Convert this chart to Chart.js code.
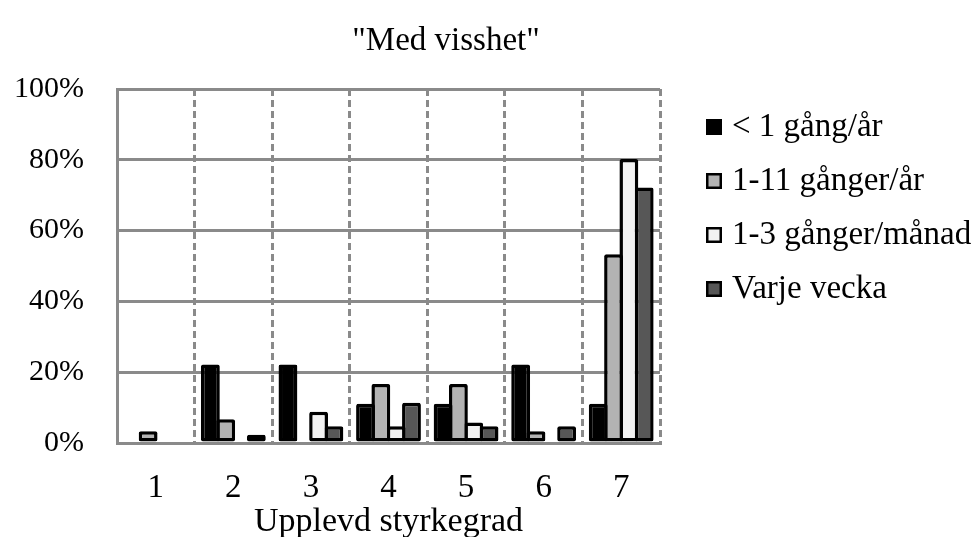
<!DOCTYPE html>
<html>
<head>
<meta charset="utf-8">
<script src="https://cdn.jsdelivr.net/npm/chart.js@4.4.1/dist/chart.umd.min.js"></script>
<style>
  html, body { margin: 0; padding: 0; background: #ffffff; }
  #wrap { width: 978px; height: 537px; }
</style>
</head>
<body>
<div id="wrap"><canvas id="c" width="978" height="537"></canvas></div>
<script>
const categories = ['1', '2', '3', '4', '5', '6', '7'];
const seriesNames = ['< 1 gång/år', '1-11 gånger/år', '1-3 gånger/månad', 'Varje vecka'];
const lessThanOnce = [0, 22.2, 22.2, 11.1, 11.1, 22.2, 11.1];
const elevenPerYear = [3.3, 6.7, 0, 16.7, 16.7, 3.3, 53.3];
const threePerMonth = [0, 0, 8.8, 4.7, 5.8, 0, 80.2];
const everyWeek = [0, 2.3, 4.7, 11.4, 4.7, 4.7, 72.2];
const yTicks = [0, 20, 40, 60, 80, 100];
const chartTitle = '"Med visshet"';
const xAxisTitle = 'Upplevd styrkegrad';

const FONT = 'Liberation Serif, Times New Roman, serif';
const GRID = '#8a8a8a';
const fills = ['#000000', '#b3b3b3', '#f2f2f2', '#575757'];
const seriesData = [lessThanOnce, elevenPerYear, threePerMonth, everyWeek];

const textPlugin = {
  id: 'sideLegendAndTitle',
  afterDraw(chart) {
    const ctx = chart.ctx;
    ctx.save();
    // title
    ctx.fillStyle = '#000';
    ctx.font = '33px ' + FONT;
    ctx.textAlign = 'center';
    ctx.textBaseline = 'middle';
    ctx.fillText(chartTitle, 446, 41);
    // legend
    chart.data.datasets.forEach((ds, i) => {
      const cy = 127 + i * 54;
      const bx = 706, bs = 16;
      ctx.fillStyle = ds.backgroundColor;
      ctx.fillRect(bx, cy - bs / 2, bs, bs);
      ctx.lineWidth = 2.5;
      ctx.strokeStyle = '#000';
      ctx.strokeRect(bx + 1.25, cy - bs / 2 + 1.25, bs - 2.5, bs - 2.5);
      ctx.fillStyle = '#000';
      ctx.font = '33px ' + FONT;
      ctx.textBaseline = 'middle';
      ctx.textAlign = 'left';
      ctx.fillText(ds.label, 732, cy);
    });
    ctx.restore();
  }
};

new Chart(document.getElementById('c'), {
  type: 'bar',
  data: {
    labels: categories,
    datasets: seriesNames.map((name, i) => ({
      label: name,
      data: seriesData[i],
      backgroundColor: fills[i],
      borderColor: '#000000',
      borderWidth: 3.5,
      borderSkipped: false,
      borderRadius: 2,
      categoryPercentage: 0.79,
      barPercentage: 1.23
    }))
  },
  options: {
    responsive: false,
    animation: false,
    devicePixelRatio: 1,
    layout: { padding: { left: 0, right: 318, top: 89, bottom: 0 } },
    plugins: {
      legend: { display: false },
      tooltip: { enabled: false },
      title: { display: false }
    },
    scales: {
      x: {
        grid: { display: true, offset: true, drawTicks: false, color: GRID, lineWidth: 3 },
        border: { display: true, color: GRID, width: 3, dash: [7, 4] },
        ticks: { color: '#000', font: { family: FONT, size: 33 }, padding: 26 },
        title: {
          display: true, text: xAxisTitle, color: '#000',
          font: { family: FONT, size: 34 }, padding: { top: 0, bottom: -5 }
        },
        afterFit(scale) { scale.height = 94; }
      },
      y: {
        min: 0, max: 100,
        afterBuildTicks(scale) { scale.ticks = yTicks.map(v => ({ value: v })); },
        grid: { drawTicks: false, color: GRID, lineWidth: 3 },
        border: { display: true, color: GRID, width: 3 },
        ticks: {
          color: '#000', font: { family: FONT, size: 30 }, padding: 33,
          callback: v => v + '%'
        },
        afterFit(scale) { scale.width = 117; }
      }
    }
  },
  plugins: [textPlugin]
});
</script>
</body>
</html>
